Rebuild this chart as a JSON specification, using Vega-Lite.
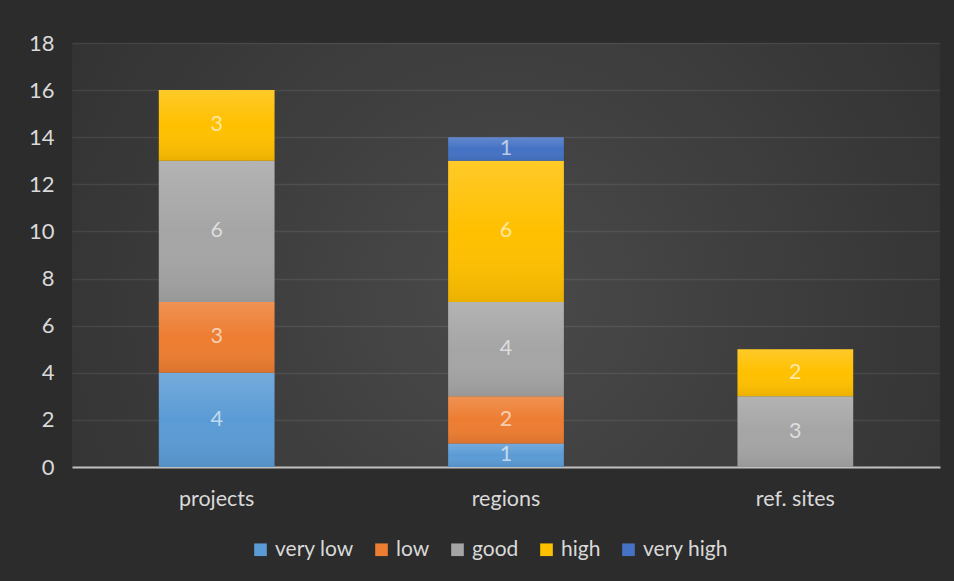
{
  "$schema": "https://vega.github.io/schema/vega-lite/v6.json",
  "width": 868,
  "height": 424,
  "autosize": {"type": "none"},
  "padding": {"left": 72, "top": 43, "right": 14, "bottom": 114},
  "background": "#2c2c2c",
  "config": {
    "font": "Lato",
    "view": {
      "stroke": null,
      "fill": {
        "gradient": "radial",
        "x1": 0.5, "y1": 0.55, "r1": 0,
        "x2": 0.5, "y2": 0.55, "r2": 0.75,
        "stops": [
          {"offset": 0, "color": "#4a4a4a"},
          {"offset": 1, "color": "#2c2c2c"}
        ]
      }
    }
  },
  "data": {
    "values": [
      {"category": "projects", "level": "very low", "value": 4},
      {"category": "projects", "level": "low", "value": 3},
      {"category": "projects", "level": "good", "value": 6},
      {"category": "projects", "level": "high", "value": 3},
      {"category": "regions", "level": "very low", "value": 1},
      {"category": "regions", "level": "low", "value": 2},
      {"category": "regions", "level": "good", "value": 4},
      {"category": "regions", "level": "high", "value": 6},
      {"category": "regions", "level": "very high", "value": 1},
      {"category": "ref. sites", "level": "good", "value": 3},
      {"category": "ref. sites", "level": "high", "value": 2}
    ]
  },
  "transform": [
    {"calculate": "indexof(['very low','low','good','high','very high'], datum.level)", "as": "rank"},
    {"stack": "value", "groupby": ["category"], "sort": [{"field": "rank", "order": "ascending"}], "as": ["v0", "v1"]},
    {"calculate": "(datum.v0 + datum.v1) / 2", "as": "mid"}
  ],
  "encoding": {
    "x": {
      "field": "category",
      "type": "nominal",
      "sort": ["projects", "regions", "ref. sites"],
      "scale": {"paddingInner": 0.6, "paddingOuter": 0.3},
      "axis": {
        "title": null,
        "labelAngle": 0,
        "labelFontSize": 21.5,
        "labelColor": "#d9d9d9",
        "labelPadding": 21,
        "ticks": false,
        "domainColor": "#c0c0c0",
        "domainWidth": 2
      }
    }
  },
  "layer": [
    {
      "mark": {"type": "bar"},
      "encoding": {
        "y": {
          "field": "v1",
          "type": "quantitative",
          "scale": {"domain": [0, 18]},
          "axis": {
            "title": null,
            "values": [0, 2, 4, 6, 8, 10, 12, 14, 16, 18],
            "labelFontSize": 22,
            "labelColor": "#d9d9d9",
            "labelPadding": 18,
            "ticks": false,
            "domain": false,
            "gridColor": "#ffffff",
            "gridOpacity": 0.08,
            "gridWidth": 1.5
          }
        },
        "y2": {"field": "v0"},
        "color": {
          "field": "level",
          "type": "nominal",
          "scale": {
            "domain": ["very low", "low", "good", "high", "very high"],
            "range": ["#5b9bd5", "#ed7d31", "#a5a5a5", "#ffc000", "#4472c4"]
          },
          "legend": {
            "title": null,
            "orient": "none",
            "legendX": 178,
            "legendY": 496,
            "direction": "horizontal",
            "symbolType": "square",
            "symbolSize": 160,
            "symbolStrokeWidth": 0,
            "symbolOpacity": 1,
            "labelFontSize": 21,
            "labelColor": "#d9d9d9",
            "labelOffset": 4,
            "columnPadding": 17
          }
        }
      }
    },
    {
      "mark": {
        "type": "bar",
        "color": {
          "gradient": "linear",
          "x1": 0, "y1": 0, "x2": 0, "y2": 1,
          "stops": [
            {"offset": 0, "color": "rgba(255,255,255,0.16)"},
            {"offset": 0.5, "color": "rgba(255,255,255,0)"},
            {"offset": 1, "color": "rgba(0,0,0,0.08)"}
          ]
        }
      },
      "encoding": {
        "y": {"field": "v1", "type": "quantitative"},
        "y2": {"field": "v0"}
      }
    },
    {
      "mark": {"type": "text", "fontSize": 21.5, "color": "#ffffff", "opacity": 0.62, "baseline": "middle"},
      "encoding": {
        "y": {"field": "mid", "type": "quantitative"},
        "text": {"field": "value", "type": "quantitative"}
      }
    }
  ]
}
